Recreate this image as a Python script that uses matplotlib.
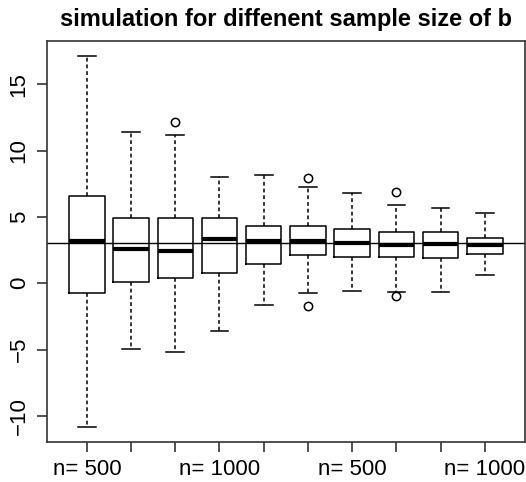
import matplotlib
matplotlib.use("Agg")
import matplotlib.pyplot as plt

plt.rcParams['font.family'] = ['Liberation Sans', 'DejaVu Sans']

# values (one entry per box)
group_names = ["n= 500", "n= 1000"] * 5
whishi = [17.16, 11.37, 11.16, 8.05, 8.18, 7.24, 6.78, 5.87, 5.70, 5.29]
q3s = [6.58, 4.91, 4.94, 4.94, 4.28, 4.28, 4.08, 3.85, 3.87, 3.44]
medians = [3.16, 2.58, 2.46, 3.32, 3.16, 3.16, 3.06, 2.89, 2.96, 2.91]
q1s = [-0.73, 0.10, 0.43, 0.76, 1.47, 2.13, 2.00, 1.97, 1.87, 2.23]
whislo = [-10.84, -4.99, -5.19, -3.59, -1.67, -0.71, -0.56, -0.63, -0.66, 0.61]
fliers = [[], [], [12.18], [], [], [7.90, -1.70], [], [6.86, -0.94], [], []]
true_value = 3

stats = []
for i in range(len(medians)):
    stats.append(dict(med=medians[i], q1=q1s[i], q3=q3s[i],
                      whislo=whislo[i], whishi=whishi[i], fliers=fliers[i]))

fig = plt.figure(figsize=(5.26, 4.82), dpi=100)
ax = fig.add_axes([0.0894, 0.083, 0.908, 0.832])

positions = list(range(1, len(stats) + 1))
ax.bxp(stats, positions=positions, widths=0.8, capwidths=0.4,
       boxprops=dict(color='black', linewidth=1.1),
       medianprops=dict(color='black', linewidth=3, solid_capstyle='butt'),
       whiskerprops=dict(color='black', linewidth=1.1, linestyle=(0, (2.5, 1.9))),
       capprops=dict(color='black', linewidth=1.1),
       flierprops=dict(marker='o', markerfacecolor='none', markeredgecolor='black',
                       markersize=6, markeredgewidth=1.1))

ax.axhline(true_value, color='black', linewidth=1)

ax.set_xlim(0.1, 10.9)
ax.set_ylim(-11.97, 18.27)

ax.set_xticks(positions)
ax.set_xticklabels([group_names[i] if i % 3 == 0 else "" for i in range(len(positions))])
ax.set_yticks([-10, -5, 0, 5, 10, 15])
ax.set_yticklabels(["\u221210", "\u22125", "0", "5", "10", "15"], rotation=90, va='center')

ax.tick_params(direction='out', length=7.5, width=1.1, colors='#222222',
               labelsize=16, labelcolor='black', pad=5)
for s in ax.spines.values():
    s.set_color('#333333')
    s.set_linewidth(1.2)

ax.set_title("simulation for diffenent sample size of b", fontsize=17,
             fontweight='bold', pad=11)

fig.savefig("out.png", dpi=100)
